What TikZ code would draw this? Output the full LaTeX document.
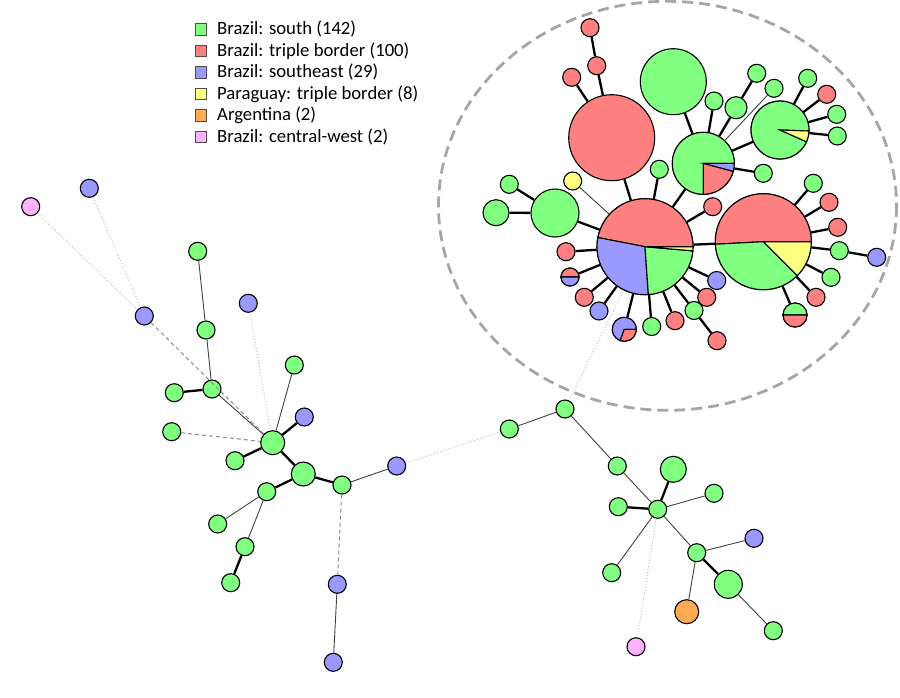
\documentclass[tikz,border=0pt]{standalone}
\usepackage{fontspec}
\setmainfont{Carlito}
\definecolor{hapgreen}{RGB}{128,255,128}
\definecolor{hapred}{RGB}{255,128,128}
\definecolor{hapblue}{RGB}{153,153,255}
\definecolor{hapyellow}{RGB}{255,255,128}
\definecolor{haporange}{RGB}{255,170,85}
\definecolor{happink}{RGB}{255,179,255}
\tikzset{
  hap/.style={circle, draw=black, line width=1.1pt, inner sep=0pt},
  strong/.style={line width=2.3pt, black},
  weak/.style={line width=0.9pt, black!75},
  dashlink/.style={line width=1pt, black!45, dash pattern=on 4pt off 3pt},
  dotlink/.style={line width=1pt, black!25, dotted},
  legbox/.style={draw=black!70, line width=0.6pt, minimum size=11.5pt, inner sep=0pt},
  legtext/.style={anchor=west, inner sep=3pt, font=\fontsize{18.7}{22}\selectfont},
}
% haplotype circle: name, x, y, radius, fill
\newcommand\hap[5]{\node[hap, minimum size={2*#4pt}, fill=#5] (#1) at (#2,#3) {};}
% pie slice: node, radius, from, to, fill
\newcommand\hapslice[5]{
  \filldraw[fill=#5, line width=1.1pt] (#1.center) -- ++(#3:#2pt)
    arc[start angle=#3, end angle=#4, radius=#2pt] -- cycle;
}

\begin{document}
\begin{tikzpicture}[x=1pt, y=1pt, yscale=-1]
  \useasboundingbox (0,0) rectangle (900,697);

  % legend
  \foreach \c/\t [count=\i from 0] in {hapgreen/Brazil: south (142),
      hapred/Brazil: triple border (100), hapblue/Brazil: southeast (29),
      hapyellow/Paraguay: triple border (8), haporange/Argentina (2),
      happink/Brazil: central-west (2)} {
    \pgfmathsetmacro\y{29.3 + 21.5*\i}
    \node[legbox, fill=\c] (leg\i) at (201,\y) {};
    \node[legtext] (legtxt\i) at (214,\y) {\t};
  }

  % main group
  \draw[black!35, line width=2.8pt, dash pattern=on 11pt off 6pt]
    (667.5,205.8) ellipse [x radius=229, y radius=204.5];

  % left part
  \hap{pk1}{30.7}{206.7}{9}{happink}
  \hap{bl1}{89.3}{188.3}{9}{hapblue}
  \hap{bl2}{144.3}{316}{9}{hapblue}
  \hap{g1}{197.7}{251.3}{9}{hapgreen}
  \hap{g2}{206}{330}{9}{hapgreen}
  \hap{bl3}{248.3}{303.3}{9}{hapblue}
  \hap{g3}{212}{389}{9}{hapgreen}
  \hap{g4}{174.3}{392.7}{9}{hapgreen}
  \hap{g5}{294.3}{365}{9}{hapgreen}
  \hap{bl4}{304.3}{417}{9}{hapblue}
  \hap{g6}{171.7}{431.7}{9}{hapgreen}
  \hap{hubA}{272.7}{442.7}{12}{hapgreen}
  \hap{g7}{235}{460.7}{9}{hapgreen}
  \hap{hubB}{303.3}{474}{12}{hapgreen}
  \hap{g8}{342}{485}{9}{hapgreen}
  \hap{bl5}{396.7}{466}{9}{hapblue}
  \hap{g9}{266.7}{491.7}{9}{hapgreen}
  \hap{g10}{217.7}{524}{9}{hapgreen}
  \hap{g11}{245}{546.7}{9}{hapgreen}
  \hap{g12}{230.7}{582.7}{9}{hapgreen}
  \hap{bl6}{337.3}{584.3}{9}{hapblue}
  \hap{bl7}{333.3}{662.3}{9}{hapblue}

  % lower right part
  \hap{g13}{509.3}{429}{9}{hapgreen}
  \hap{g14}{565}{409}{9}{hapgreen}
  \hap{g15}{617.3}{466}{9}{hapgreen}
  \hap{g16}{673.3}{469.3}{13}{hapgreen}
  \hap{g17}{714}{493.3}{9}{hapgreen}
  \hap{g18}{618.3}{506.7}{9}{hapgreen}
  \hap{hubC}{657.7}{509.3}{9}{hapgreen}
  \hap{g19}{696.7}{552.7}{9}{hapgreen}
  \hap{bl8}{754}{538.3}{9}{hapblue}
  \hap{g20}{728.3}{584.3}{14}{hapgreen}
  \hap{or1}{686.7}{611.7}{12}{haporange}
  \hap{g21}{611.7}{572.7}{9}{hapgreen}
  \hap{g22}{773.3}{630.7}{9}{hapgreen}
  \hap{pk2}{636}{646.7}{9}{happink}

  % big haplotypes
  \hap{C1}{645}{246.7}{48}{none}
  \hap{C4}{763.3}{241.7}{48}{none}
  \hap{C2}{703.3}{163.3}{31}{none}
  \hap{C3}{780}{130}{29}{none}
  \hap{R1}{611.7}{137.7}{43}{hapred}
  \hap{G1}{673.3}{81.7}{33}{hapgreen}
  \hap{C5}{555}{213}{24}{hapgreen}
  \hap{g23}{496}{212.7}{13}{hapgreen}
  \hap{g24}{509.3}{184.3}{9}{hapgreen}
  \hap{y1}{572.7}{181}{9}{hapyellow}
  \hap{r2}{590}{27.7}{9}{hapred}
  \hap{r3}{596.7}{65.7}{9}{hapred}
  \hap{r4}{571.7}{77.3}{9}{hapred}
  \hap{g25}{714}{101}{9}{hapgreen}
  \hap{g26}{736}{107.7}{11}{hapgreen}
  \hap{g27}{756.7}{73.3}{9}{hapgreen}
  \hap{g28}{774}{88.3}{9}{hapgreen}
  \hap{g29}{763.3}{173.3}{9}{hapgreen}
  \hap{g30}{659.3}{169.3}{9}{hapgreen}
  \hap{r5}{712.7}{206.7}{9}{hapred}
  \hap{g31}{807.7}{78.3}{9}{hapgreen}
  \hap{r6}{826.7}{94.3}{9}{hapred}
  \hap{g32}{836.7}{114.3}{9}{hapgreen}
  \hap{g33}{837.3}{136}{9}{hapgreen}
  \hap{r7}{566}{251.7}{9}{hapred}
  \hap{rb1}{570}{277}{9}{none}
  \hap{r8}{584.3}{297.3}{9}{hapred}
  \hap{bl9}{599}{311}{9}{hapblue}
  \hap{pbr}{624.3}{329.3}{12}{none}
  \hap{g34}{651.7}{326.5}{9}{hapgreen}
  \hap{r9}{675}{320.7}{9}{hapred}
  \hap{g35}{694}{310.5}{9}{hapgreen}
  \hap{r10}{717}{340.7}{9}{hapred}
  \hap{r11}{706.7}{297.3}{9}{hapred}
  \hap{bl10}{716.7}{280.5}{9}{hapblue}
  \hap{g36}{813.3}{183.3}{9}{hapgreen}
  \hap{r12}{829}{202.3}{9}{hapred}
  \hap{r13}{837.7}{227.3}{9}{hapred}
  \hap{g37}{839.3}{250.7}{9}{hapgreen}
  \hap{bl11}{876.7}{257.3}{9}{hapblue}
  \hap{g38}{831}{277.3}{9}{hapgreen}
  \hap{r14}{816}{297.3}{9}{hapred}
  \hap{gr1}{795}{315}{12}{none}

  % pies
  \hapslice{C1}{48}{191}{360}{hapred}
  \hapslice{C1}{48}{86}{191}{hapblue}
  \hapslice{C1}{48}{5}{86}{hapgreen}
  \hapslice{C1}{48}{0}{5}{hapyellow}
  \hapslice{C4}{48}{177}{360}{hapred}
  \hapslice{C4}{48}{45}{177}{hapgreen}
  \hapslice{C4}{48}{0}{45}{hapyellow}
  \hapslice{C2}{31}{90}{360}{hapgreen}
  \hapslice{C2}{31}{15}{90}{hapred}
  \hapslice{C2}{31}{0}{15}{hapblue}
  \hapslice{C3}{29}{24}{362}{hapgreen}
  \hapslice{C3}{29}{2}{24}{hapyellow}
  \hapslice{rb1}{9}{180}{360}{hapred}
  \hapslice{rb1}{9}{0}{180}{hapblue}
  \hapslice{gr1}{12}{180}{360}{hapgreen}
  \hapslice{gr1}{12}{0}{180}{hapred}
  \hapslice{pbr}{12}{110}{360}{hapblue}
  \hapslice{pbr}{12}{0}{110}{hapred}

  % links
  \foreach \a/\b in {g4/g3, bl4/hubA, hubA/g7, hubA/hubB, hubB/g8, hubB/g9,
      g11/g12, hubC/g16, hubC/g18, g19/g20,
      R1/r3, r3/r2, R1/r4, R1/C1, G1/C2, C2/g25, C2/g26, g26/g27, C2/C3,
      C2/g29, C2/C1, C1/g30, C1/r5, C1/C4, C1/C5, C5/g23, C5/g24,
      C3/g31, C3/r6, C3/g32, C3/g33,
      C1/r7, C1/rb1, C1/r8, C1/bl9, C1/pbr, C1/g34, C1/r9, C1/g35, g35/r10,
      C1/r11, C1/bl10,
      C4/g36, C4/r12, C4/r13, C4/g37, g37/bl11, C4/g38, C4/r14, C4/gr1}
    \draw[strong] (\a) -- (\b);
  \foreach \a/\b in {g1/g2, g2/g3, g3/hubA, g5/hubA, g9/g10, g9/g11,
      g8/bl5, bl6/bl7, g13/g14, g14/g15, g15/hubC, hubC/g17, hubC/g19,
      hubC/g21, g19/bl8, g19/or1, g20/g22, C2/g28, C1/y1}
    \draw[weak] (\a) -- (\b);
  \foreach \a/\b in {bl2/hubA, g6/hubA, g8/bl6}
    \draw[dashlink] (\a) -- (\b);
  \foreach \a/\b in {pk1/bl2, bl1/bl2, bl3/hubA, bl5/g13, g14/C1, hubC/pk2}
    \draw[dotlink] (\a) -- (\b);
\end{tikzpicture}
\end{document}
